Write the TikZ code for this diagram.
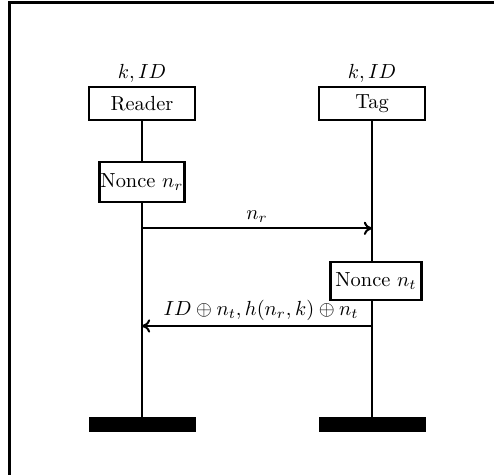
\documentclass[tikz,border=0pt]{standalone}
\usetikzlibrary{arrows.meta}
\begin{document}
\begin{tikzpicture}[x=0.49pt,y=-0.49pt,
  frameline/.style={line width=1.5pt},
  lifeline/.style={line width=1pt},
  msg/.style={line width=1pt,-{To[length=4pt,width=6.5pt]}},
  entity/.style={draw,line width=1.15pt,inner sep=0pt,minimum width={106*0.49pt},minimum height={33*0.49pt}},
  stepbox/.style={draw,line width=1.15pt,inner sep=0pt,minimum height={40*0.49pt}},
  endbar/.style={fill=black,inner sep=0pt,minimum width={107*0.49pt},minimum height={15*0.49pt}},
  lbl/.style={inner sep=0pt}]
\useasboundingbox (0,0) rectangle (494,475);
% frame (top and left edges)
\coordinate (ftl) at (9.5,2.5);
\coordinate (ftr) at (494,2.5);
\coordinate (fbl) at (9.5,475);
\draw[frameline] (fbl) -- (ftl) -- (ftr);
% labels above entities
\node[lbl] (rlab) at (142,73) {$k,ID$};
\node[lbl] (tlab) at (372,73) {$k,ID$};
% entities
\node[entity] (reader) at (142,103.5) {Reader};
\node[entity] (tag) at (372,103.5) {Tag};
% process steps
\node[stepbox,minimum width={85*0.49pt}] (nr) at (142,182.3) {Nonce $n_r$};
\node[stepbox,minimum width={91*0.49pt},minimum height={38*0.49pt}] (nt) at (376,281) {Nonce $n_t$};
% end bars
\node[endbar] (endR) at (142,424.7) {};
\node[endbar] (endT) at (372,424.7) {};
% lifelines
\draw[lifeline] (reader.south) -- (nr.north);
\draw[lifeline] (nr.south) -- (endR.north);
\draw[lifeline] (tag.south) -- (tag.south |- nt.north);
\draw[lifeline] (tag.south |- nt.south) -- (endT.north);
% messages
\coordinate (m1s) at (142,228.3);
\coordinate (m1e) at (372,228.3);
\coordinate (m2s) at (372,326);
\coordinate (m2e) at (142,326);
\draw[msg] (m1s) -- node[above=2.5pt,lbl] (m1lab) {$n_r$} (m1e);
\draw[msg] (m2s) -- node[above=2pt,lbl,xshift=2pt] (m2lab) {$ID\oplus n_t, h(n_r,k)\oplus n_t$} (m2e);
\end{tikzpicture}
\end{document}
